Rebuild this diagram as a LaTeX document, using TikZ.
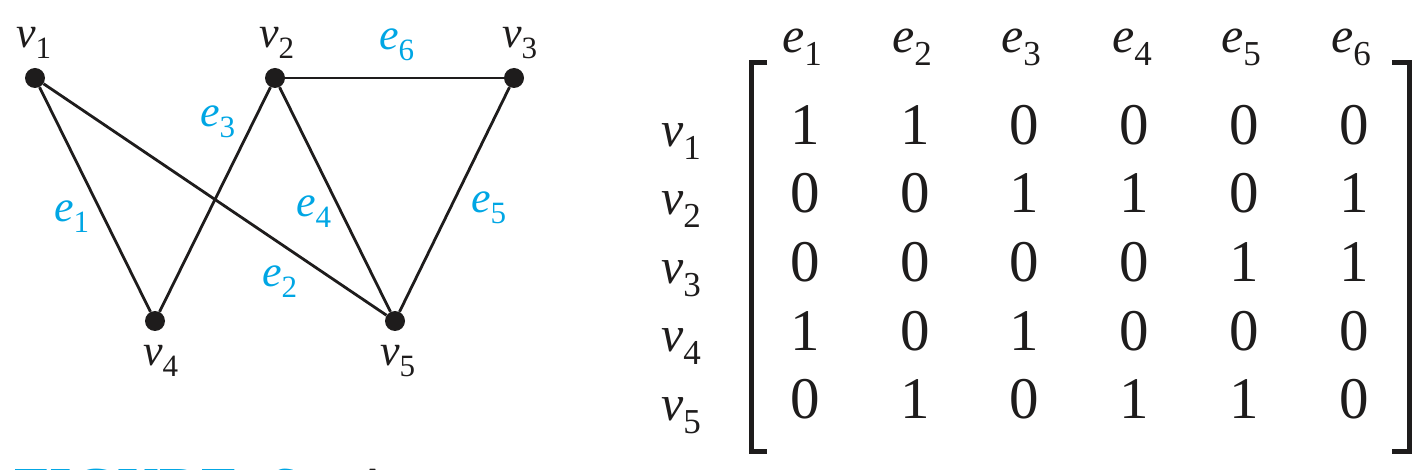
\documentclass[tikz,border=0pt]{standalone}
\usepackage{fontspec}
\setmainfont{Liberation Serif}
\newfontfamily\tms{Liberation Serif}
\definecolor{ecyan}{RGB}{0,166,228}
\definecolor{ink}{RGB}{30,28,28}
\newcommand\sbl[5]{{\tms\fontsize{#3}{#3}\selectfont\itshape #1}{\tms\fontsize{#4}{#4}\selectfont\raisebox{-#5pt}{#2}}}
\newcommand\glab[2]{\sbl{#1}{#2}{44}{31}{11}}
\newcommand\mlab[2]{\sbl{#1}{#2}{50}{35}{13}}
\tikzset{
  vtx/.style={circle, fill=ink, inner sep=0pt, minimum size=20pt},
  gedge/.style={line width=2.8pt, draw=ink},
  lab/.style={inner sep=0pt, anchor=base west, text=ink},
  elab/.style={inner sep=0pt, anchor=base west, text=ecyan},
  ent/.style={inner sep=0pt, anchor=base, text=ink, font=\tms\fontsize{59}{59}\selectfont},
  brk/.style={line width=5pt, draw=ink},
  captxt/.style={inner sep=0pt, anchor=base west, font=\tms\fontsize{58}{58}\selectfont\bfseries},
}
\begin{document}
\begin{tikzpicture}[x=1pt,y=-1pt]
\useasboundingbox (0,0) rectangle (1419,470);
\clip (0,0) rectangle (1419,470);
% vertices
\node[vtx] (v1) at (35,78) {};
\node[vtx] (v2) at (275,78) {};
\node[vtx] (v3) at (514,78) {};
\node[vtx] (v4) at (155,321) {};
\node[vtx] (v5) at (395,321) {};
% edges
\draw[gedge] (v1) -- (v4);
\draw[gedge] (v1) -- (v5);
\draw[gedge] (v2) -- (v4);
\draw[gedge] (v2) -- (v5);
\draw[gedge] (v3) -- (v5);
\draw[gedge] (v2) -- (v3);
% vertex labels
\node[lab] (lv1) at (16,48) {\glab{v}{1}};
\node[lab] (lv2) at (259,48) {\glab{v}{2}};
\node[lab] (lv3) at (502,48) {\glab{v}{3}};
\node[lab] (lv4) at (143,365) {\glab{v}{4}};
\node[lab] (lv5) at (380,365) {\glab{v}{5}};
% edge labels
\node[elab] (le1) at (54,222) {\glab{e}{1}};
\node[elab] (le2) at (262,287) {\glab{e}{2}};
\node[elab] (le3) at (200,127) {\glab{e}{3}};
\node[elab] (le4) at (296,217) {\glab{e}{4}};
\node[elab] (le5) at (471,213) {\glab{e}{5}};
\node[elab] (le6) at (379,50) {\glab{e}{6}};
% matrix header
\foreach \c/\x in {1/805,2/915,3/1024,4/1135,5/1244,6/1354}{
  \node[lab] (h\c) at (\x-23,53) {\mlab{e}{\c}};
}
% row labels
\foreach \r/\y in {1/145,2/213,3/282,4/350,5/418}{
  \node[lab] (r\r) at (661,\y+2) {\mlab{v}{\r}};
}
% entries
\foreach \r/\y/\row in {1/145/{1,1,0,0,0,0},2/213/{0,0,1,1,0,1},3/282/{0,0,0,0,1,1},4/350/{1,0,1,0,0,0},5/418/{0,1,0,1,1,0}}{
  \foreach \v [count=\c] in \row {
    \pgfmathsetmacro\xx{805+(\c-1)*109.8}
    \node[ent] (m\r-\c) at (\xx,\y) {\v};
  }
}
% brackets
\draw[brk] (767,62.5) -- (751,62.5) -- (751,451.5) -- (767,451.5);
\draw[brk] (1392,62.5) -- (1409,62.5) -- (1409,451.5) -- (1392,451.5);
% caption, cut by the lower edge as in the reference
\node[captxt, text=ecyan] (cap1) at (14,507) {FIGURE};
\node[captxt, text=ecyan] (cap2) at (268,507) {6};
\node[captxt, text=ink, font=\tms\fontsize{58}{58}\selectfont\mdseries] (cap3) at (352,507) {A};
\end{tikzpicture}
\end{document}
